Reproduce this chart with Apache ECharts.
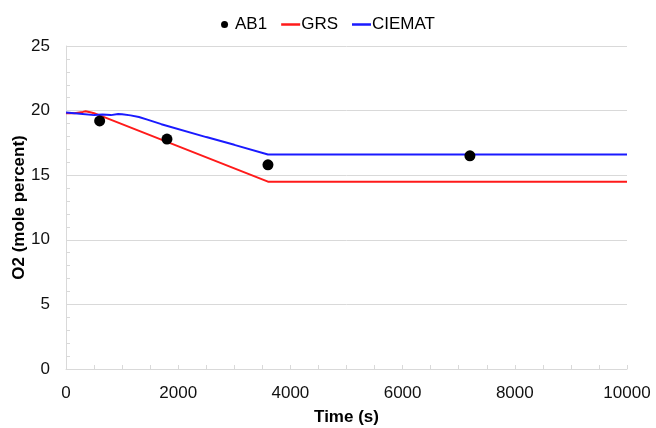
<!DOCTYPE html>
<html>
<head>
<meta charset="utf-8">
<script src="https://cdn.jsdelivr.net/npm/echarts@6/dist/echarts.min.js"></script>
<style>
  html, body { margin: 0; padding: 0; background: #fff; }
  #chart { width: 656px; height: 428px; }
</style>
</head>
<body>
<div id="chart"></div>
<script>
// Measured O2 concentration (AB1) and the two code predictions
const ab1Time = [600, 1800, 3600, 7200];
const ab1O2 = [19.2, 17.8, 15.8, 16.5];

const grsTime = [0, 150, 300, 350, 450, 500, 3600, 10000];
const grsO2 = [19.8, 19.8, 19.9, 19.95, 19.85, 19.8, 14.5, 14.5];

const ciematTime = [0, 250, 500, 650, 800, 930, 1000, 1150, 1300, 1450, 1700, 2500, 3000, 3600, 10000];
const ciematO2 = [19.85, 19.75, 19.65, 19.7, 19.65, 19.74, 19.72, 19.63, 19.5, 19.3, 18.95, 17.95, 17.35, 16.6, 16.6];

const xTicks = { min: 0, max: 10000, step: 2000 };
const yTicks = { min: 0, max: 25, step: 5 };

const pairs = (xs, ys) => xs.map((x, i) => [x, ys[i]]);

const FONT = 'Liberation Sans, Arial, sans-serif';
const AXIS_GREY = '#d9d9d9';
const LINE_ICON = 'path://M0,0h19v2.5h-19z';

const chart = echarts.init(document.getElementById('chart'));
chart.setOption({
  animation: false,
  textStyle: { fontFamily: FONT },
  legend: {
    top: 11,
    left: 'center',
    itemGap: 14,
    itemWidth: 19,
    itemHeight: 7,
    symbolKeepAspect: true,
    textStyle: { fontSize: 17, color: '#000', fontFamily: FONT, padding: [0, 0, 0, -4] },
    data: [
      { name: 'AB1', icon: 'circle' },
      { name: 'GRS', icon: LINE_ICON },
      { name: 'CIEMAT', icon: LINE_ICON }
    ]
  },
  grid: { left: 66, right: 29, top: 46, bottom: 59, containLabel: false, outerBoundsMode: 'none' },
  xAxis: {
    type: 'value',
    min: xTicks.min, max: xTicks.max, interval: xTicks.step,
    name: 'Time (s)',
    nameLocation: 'middle',
    nameGap: 40,
    nameMoveOverlap: false,
    nameTextStyle: { fontSize: 17, fontWeight: 'bold', color: '#000' },
    axisLine: { show: true, lineStyle: { color: AXIS_GREY, width: 1 } },
    axisTick: { show: true, inside: true, length: 4, lineStyle: { color: AXIS_GREY } },
    minorTick: { show: true, splitNumber: 4, length: 4, lineStyle: { color: AXIS_GREY } },
    axisLabel: { fontSize: 17, color: '#111', margin: 16, formatter: v => String(v) },
    splitLine: { show: false }
  },
  yAxis: {
    type: 'value',
    min: yTicks.min, max: yTicks.max, interval: yTicks.step,
    name: 'O2 (mole percent)',
    nameLocation: 'middle',
    nameGap: 38,
    nameMoveOverlap: false,
    nameTextStyle: { fontSize: 17, fontWeight: 'bold', color: '#000' },
    axisLine: { show: true, lineStyle: { color: AXIS_GREY, width: 1 } },
    axisTick: { show: true, inside: true, length: 4, lineStyle: { color: AXIS_GREY } },
    minorTick: { show: true, splitNumber: 5, length: 4, lineStyle: { color: AXIS_GREY } },
    axisLabel: { fontSize: 17, color: '#111', margin: 16 },
    splitLine: { show: true, lineStyle: { color: AXIS_GREY, width: 1 } }
  },
  series: [
    {
      name: 'AB1',
      type: 'scatter',
      symbol: 'circle',
      symbolSize: 11,
      itemStyle: { color: '#000', opacity: 1 },
      data: pairs(ab1Time, ab1O2),
      z: 5
    },
    {
      name: 'GRS',
      type: 'line',
      symbol: 'none',
      lineStyle: { color: '#ff1a1a', width: 2 },
      itemStyle: { color: '#ff1a1a' },
      data: pairs(grsTime, grsO2)
    },
    {
      name: 'CIEMAT',
      type: 'line',
      symbol: 'none',
      lineStyle: { color: '#1a1aff', width: 2 },
      itemStyle: { color: '#1a1aff' },
      data: pairs(ciematTime, ciematO2)
    }
  ]
});
</script>
</body>
</html>
